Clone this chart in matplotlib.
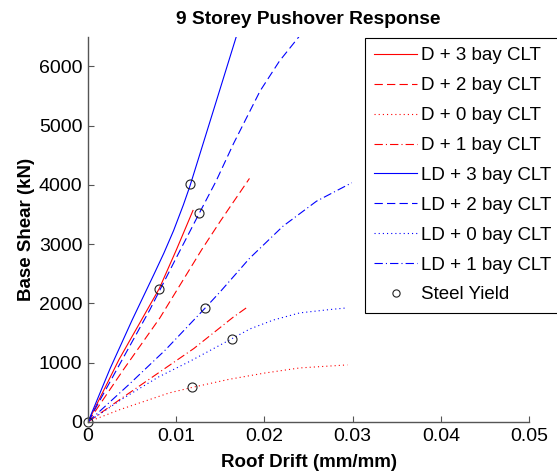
import numpy as np
import matplotlib
matplotlib.use('Agg')
import matplotlib.pyplot as plt

plt.rcParams['font.family'] = ['Liberation Sans', 'DejaVu Sans']
plt.rcParams['lines.scale_dashes'] = False

# Pushover curves (roof drift mm/mm, base shear kN)
d3_drift = [0, 0.0035, 0.00808, 0.0100, 0.0119]
d3_shear = [0, 1050, 2252, 2900, 3570]

d2_drift = [0, 0.0040, 0.00815, 0.0129, 0.0150, 0.0159, 0.0183]
d2_shear = [0, 880, 1757, 2911, 3389, 3586, 4110]

d0_drift = [0, 0.0036, 0.0092, 0.01185, 0.016, 0.020, 0.024, 0.0294]
d0_shear = [0, 208, 490, 585, 720, 825, 912, 963]

d1_drift = [0, 0.004, 0.008, 0.0120, 0.0164, 0.0182]
d1_shear = [0, 420, 830, 1240, 1762, 1953]

ld3_drift = [0, 0.0025, 0.0050, 0.0075, 0.0086, 0.0097, 0.0108, 0.01155, 0.0142, 0.0168]
ld3_shear = [0, 900, 1720, 2500, 2850, 3230, 3660, 3980, 5250, 6500]

ld2_drift = [0, 0.0035, 0.00702, 0.0100, 0.0126, 0.0145, 0.0165, 0.0195, 0.0217, 0.0239]
ld2_shear = [0, 950, 1897, 2770, 3519, 4060, 4700, 5585, 6091, 6500]

ld0_drift = [0, 0.004, 0.008, 0.01155, 0.01627, 0.01835, 0.0210, 0.0240, 0.0274, 0.0294]
ld0_shear = [0, 400, 760, 1024, 1402, 1570, 1720, 1841, 1897, 1926]

ld1_drift = [0, 0.0047, 0.0088, 0.0133, 0.0150, 0.0183, 0.0221, 0.0259, 0.0299]
ld1_shear = [0, 640, 1220, 1926, 2200, 2760, 3304, 3726, 4037]

yield_drift = [0, 0.0118, 0.0163, 0.0133, 0.0081, 0.01155, 0.0126]
yield_shear = [0, 585, 1402, 1926, 2252, 4020, 3519]

xticks = [0, 0.01, 0.02, 0.03, 0.04, 0.05]
xticklabels = ['0', '0.01', '0.02', '0.03', '0.04', '0.05']
yticks = [0, 1000, 2000, 3000, 4000, 5000, 6000]

# line styles (in points, dashes not scaled by width)
solid = '-'
dashed = (0, (6.0, 3.0))
dotted = (0, (0.8, 2.2))
dashdot = (0, (6.0, 2.2, 0.8, 2.2))
lw = 0.8

fig = plt.figure(figsize=(5.57, 4.72), dpi=100)
ax = fig.add_axes([0.158, 0.106, 0.792, 0.816])

ax.plot(d3_drift, d3_shear, color='r', ls=solid, lw=lw, label='D + 3 bay CLT')
ax.plot(d2_drift, d2_shear, color='r', ls=dashed, lw=lw, label='D + 2 bay CLT')
ax.plot(d0_drift, d0_shear, color='r', ls=dotted, lw=lw, label='D + 0 bay CLT')
ax.plot(d1_drift, d1_shear, color='r', ls=dashdot, lw=lw, label='D + 1 bay CLT')
ax.plot(ld3_drift, ld3_shear, color='b', ls=solid, lw=lw, label='LD + 3 bay CLT')
ax.plot(ld2_drift, ld2_shear, color='b', ls=dashed, lw=lw, label='LD + 2 bay CLT')
ax.plot(ld0_drift, ld0_shear, color='b', ls=dotted, lw=lw, label='LD + 0 bay CLT')
ax.plot(ld1_drift, ld1_shear, color='b', ls=dashdot, lw=lw, label='LD + 1 bay CLT')
ax.plot(yield_drift, yield_shear, ls='none', marker='o', ms=6.5, mfc='none',
        mec='#222222', mew=0.8, label='Steel Yield', clip_on=False)

ax.set_xlim(0, 0.05)
ax.set_ylim(0, 6500)
ax.set_xticks(xticks)
ax.set_xticklabels(xticklabels)
ax.set_yticks(yticks)

for s in ['top', 'right']:
    ax.spines[s].set_visible(False)
for s in ['left', 'bottom']:
    ax.spines[s].set_color('#555555')
    ax.spines[s].set_linewidth(1.0)
ax.tick_params(direction='in', length=4, width=0.8, color='#555555',
               labelsize=14, pad=4)

ax.set_title('9 Storey Pushover Response', fontsize=13.8, fontweight='bold', pad=9)
ax.set_xlabel('Roof Drift (mm/mm)', fontsize=13.5, fontweight='bold', labelpad=7)
ax.set_ylabel('Base Shear (kN)', fontsize=13.5, fontweight='bold', labelpad=3)

leg = ax.legend(loc='upper left', bbox_to_anchor=(0.655, 0.9195),
                bbox_transform=fig.transFigure, fontsize=13.5, frameon=True,
                fancybox=False, edgecolor='black', framealpha=1,
                borderaxespad=0, handlelength=2.3, handletextpad=0.2,
                labelspacing=0.68, borderpad=0.5, markerscale=0.8)
leg.get_frame().set_linewidth(0.8)

fig.savefig('out.png', dpi=100)
